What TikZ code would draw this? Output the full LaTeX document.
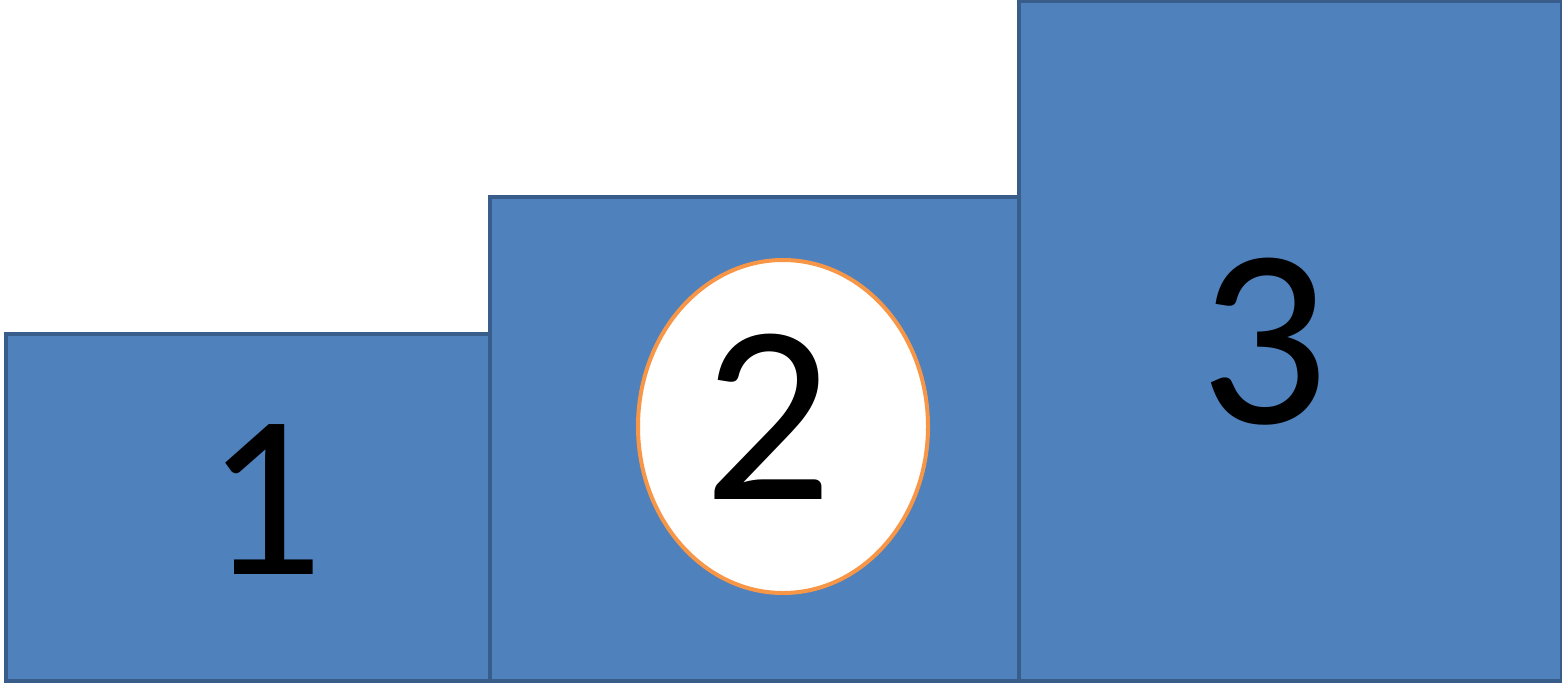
\documentclass[tikz,border=0pt]{standalone}
\usepackage{fontspec}
\setmainfont{Carlito}
\usetikzlibrary{shapes.geometric}
\definecolor{boxfill}{HTML}{4F81BD}
\definecolor{boxline}{HTML}{385D8A}
\definecolor{ringline}{HTML}{F79646}
\begin{document}
\begin{tikzpicture}[x=1pt,y=-1pt,
  stepbox/.style={draw=boxline,fill=boxfill,line width=4pt,anchor=south west,inner sep=0pt},
  digit/.style={inner sep=0pt,text=black}]
\useasboundingbox (0,0) rectangle (1562,685);
\node[stepbox,minimum width=484pt,minimum height=347pt] (b1) at (4,683) {};
\node[stepbox,minimum width=529pt,minimum height=484pt] (b2) at (488,683) {};
\node[stepbox,minimum width=543pt,minimum height=680pt] (b3) at (1017,683) {};
\node[draw=ringline,fill=white,line width=4pt,ellipse,minimum width=290pt,minimum height=333pt,inner sep=0pt] (e2) at (783,426.5) {};
\node[digit,font=\fontsize{233}{233}\selectfont] (t1) at (265,500) {1};
\node[digit,font=\fontsize{255}{255}\selectfont] (t2) at (768,416.5) {2};
\node[digit,font=\fontsize{255}{255}\selectfont] (t3) at (1264,341.5) {3};
\end{tikzpicture}
\end{document}
